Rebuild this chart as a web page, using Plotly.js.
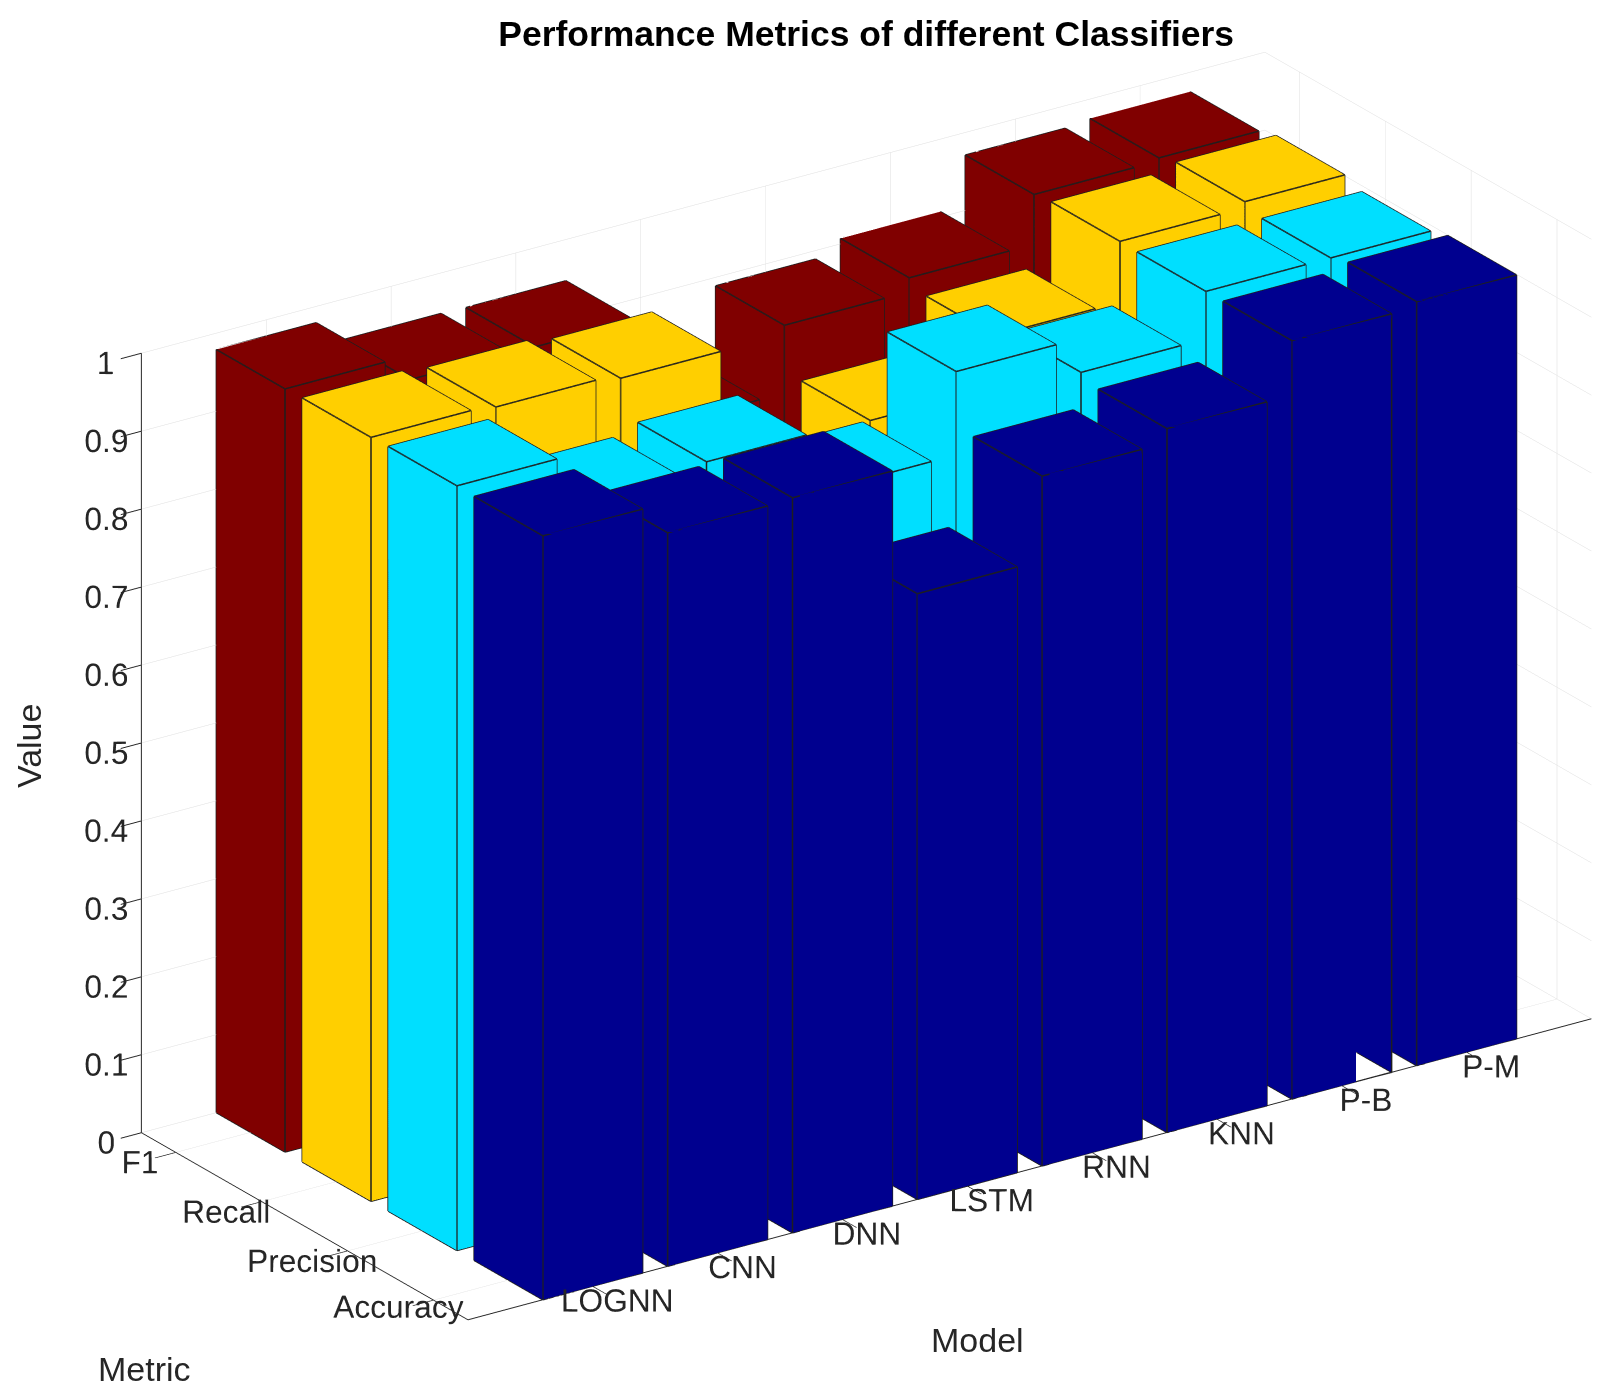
<!DOCTYPE html>
<html>
<head>
<meta charset="utf-8">
<script src="https://cdn.plot.ly/plotly-3.0.1.min.js"></script>
<style>html,body{margin:0;padding:0;background:#fff;} #chart{width:1613px;height:1400px;}</style>
</head>
<body>
<div id="chart"></div>
<script>
// ---- data ----
const models = ['LOGNN', 'CNN', 'DNN', 'LSTM', 'RNN', 'KNN', 'P-B', 'P-M'];
const metrics = ['Accuracy', 'Precision', 'Recall', 'F1'];
const accuracy  = [0.980, 0.941, 0.943, 0.777, 0.885, 0.903, 0.973, 0.980];
const precision = [0.981, 0.915, 0.926, 0.849, 0.956, 0.912, 0.973, 0.973];
const recall    = [0.980, 0.976, 0.970, 0.760, 0.830, 0.896, 0.974, 0.982];
const f1        = [0.979, 0.948, 0.947, 0.802, 0.889, 0.907, 0.971, 0.975];
const zTicks = [0, 0.1, 0.2, 0.3, 0.4, 0.5, 0.6, 0.7, 0.8, 0.9, 1];
const metricColors = ['#00008F', '#00DFFF', '#FFCF00', '#800000'];

const series = [accuracy, precision, recall, f1];
const halfW = 0.4;

function boxMesh(values, row, color, name) {
  const X = [], Y = [], Z = [], I = [], J = [], K = [];
  const ex = [], ey = [], ez = [];
  values.forEach((v, idx) => {
    const xc = idx + 1, yc = row;
    const x0 = xc - halfW, x1 = xc + halfW, y0 = yc - halfW, y1 = yc + halfW;
    const b = X.length;
    const corners = [[x0,y0,0],[x1,y0,0],[x1,y1,0],[x0,y1,0],[x0,y0,v],[x1,y0,v],[x1,y1,v],[x0,y1,v]];
    corners.forEach(c => { X.push(c[0]); Y.push(c[1]); Z.push(c[2]); });
    const faces = [[4,5,6],[4,6,7],[0,1,5],[0,5,4],[1,2,6],[1,6,5],[2,3,7],[2,7,6],[3,0,4],[3,4,7]];
    faces.forEach(f => { I.push(b+f[0]); J.push(b+f[1]); K.push(b+f[2]); });
    const edges = [[0,1],[1,2],[2,3],[3,0],[4,5],[5,6],[6,7],[7,4],[0,4],[1,5],[2,6],[3,7]];
    edges.forEach(e => {
      const p = corners[e[0]], q = corners[e[1]];
      ex.push(p[0], q[0], null); ey.push(p[1], q[1], null); ez.push(p[2], q[2], null);
    });
  });
  return [
    {type: 'mesh3d', x: X, y: Y, z: Z, i: I, j: J, k: K, color: color, name: name,
     flatshading: true, hoverinfo: 'skip',
     lighting: {ambient: 1, diffuse: 0, specular: 0, roughness: 1, fresnel: 0}},
    {type: 'scatter3d', mode: 'lines', x: ex, y: ey, z: ez, hoverinfo: 'skip', showlegend: false,
     line: {color: '#1e1e1e', width: 3}}
  ];
}

let traces = [];
series.forEach((vals, r) => { traces = traces.concat(boxMesh(vals, r + 1, metricColors[r], metrics[r])); });

const FONT = 'Liberation Sans, Arial, sans-serif';
const tickFont = {family: FONT, size: 19.5, color: '#262626'};
const axisCommon = {
  showgrid: true, gridcolor: '#dedede', gridwidth: 1,
  showline: true, linecolor: '#262626', linewidth: 2,
  ticks: 'outside', tickcolor: '#262626', ticklen: 25, tickwidth: 2,
  showbackground: false, zeroline: false, showspikes: false,
  tickangle: 0,
  tickfont: tickFont,
  title: {text: ''}
};

const ZOOM = 1.24;
const shiftC = {x: -0.0721, y: 0.0493, z: 0};
const axisTitleFont = {family: FONT, size: 34, color: '#262626'};
const layout = {
  width: 1613, height: 1400,
  margin: {l: 0, r: 0, t: 0, b: 0},
  paper_bgcolor: '#ffffff',
  showlegend: false,
  title: {text: 'Performance Metrics of different Classifiers', x: 0.537, xanchor: 'center', y: 0.976, yanchor: 'middle',
          font: {family: FONT, size: 35.5, color: '#000000', weight: 700}},
  annotations: [
    {text: 'Value', xref: 'paper', yref: 'paper', x: 29 / 1613, y: 1 - 746 / 1400, showarrow: false,
     textangle: -90, font: axisTitleFont, xanchor: 'center', yanchor: 'middle'},
    {text: 'Metric', xref: 'paper', yref: 'paper', x: 144 / 1613, y: 1 - 1369 / 1400, showarrow: false,
     font: axisTitleFont, xanchor: 'center', yanchor: 'middle'},
    {text: 'Model', xref: 'paper', yref: 'paper', x: 977 / 1613, y: 1 - 1340 / 1400, showarrow: false,
     font: axisTitleFont, xanchor: 'center', yanchor: 'middle'}
  ],
  scene: {
    domain: {x: [0, 1], y: [0.02, 1.0]},
    aspectmode: 'manual',
    aspectratio: {x: 1.6 * ZOOM, y: 0.68 * ZOOM, z: 0.996 * ZOOM},
    camera: {
      projection: {type: 'orthographic'},
      eye: {x: -0.8376 + shiftC.x, y: -1.2249 + shiftC.y, z: 0.632 + shiftC.z},
      up: {x: 0, y: 0, z: 1},
      center: shiftC
    },
    xaxis: Object.assign({}, axisCommon, {range: [0, 9], tickvals: models.map((m, i) => i + 1), ticktext: models}),
    yaxis: Object.assign({}, axisCommon, {range: [0.6, 4.4], tickvals: metrics.map((m, i) => i + 1), ticktext: metrics}),
    zaxis: Object.assign({}, axisCommon, {range: [0, 1], tickvals: zTicks, ticktext: zTicks.map(String)})
  }
};

Plotly.newPlot('chart', traces, layout, {displayModeBar: false});
</script>
</body>
</html>
